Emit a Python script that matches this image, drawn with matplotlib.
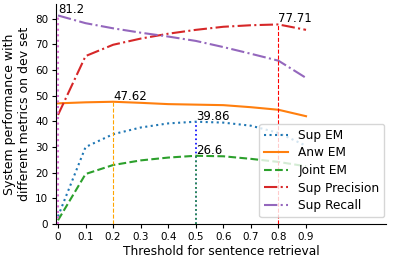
import matplotlib
matplotlib.use("Agg")
import matplotlib.pyplot as plt

thresholds = [0.0, 0.1, 0.2, 0.3, 0.4, 0.5, 0.6, 0.7, 0.8, 0.9]
sup_em = [3.0, 30.0, 35.0, 37.6, 39.2, 39.86, 39.5, 38.3, 35.5, 30.5]
anw_em = [47.0, 47.4, 47.62, 47.2, 46.7, 46.5, 46.3, 45.5, 44.5, 42.0]
joint_em = [1.5, 19.5, 23.0, 24.8, 25.9, 26.6, 26.4, 25.4, 24.2, 22.5]
sup_precision = [42.5, 65.4, 69.8, 72.2, 74.1, 75.6, 76.8, 77.4, 77.71, 75.6]
sup_recall = [81.2, 78.2, 76.2, 74.5, 73.0, 71.3, 68.9, 66.3, 63.6, 56.9]

labels = ["Sup EM", "Anw EM", "Joint EM", "Sup Precision", "Sup Recall"]
peak_x = [0.5, 0.2, 0.5, 0.8, 0.0]
peak_y = [39.86, 47.62, 26.6, 77.71, 81.2]
peak_text = ["39.86", "47.62", "26.6", "77.71", "81.2"]

fig = plt.figure(figsize=(3.93, 2.6), dpi=100)
ax = fig.add_axes([0.142, 0.138, 0.84, 0.845])

series = [sup_em, anw_em, joint_em, sup_precision, sup_recall]
colors = ["tab:blue", "tab:orange", "tab:green", "tab:red", "tab:purple"]
styles = [":", "-", "--", "-.", "-."]
vcolors = ["blue", "orange", "tab:green", "red", "orchid"]
vstyles = [":", "--", ":", "--", ":"]
vwidths = [1.2, 0.8, 1.2, 0.8, 1.5]

for s, c, ls, lab in zip(series, colors, styles, labels):
    ax.plot(thresholds, s, color=c, linestyle=ls, linewidth=1.5, label=lab)

for px, py, t, vc, vs, vw in zip(peak_x, peak_y, peak_text, vcolors, vstyles, vwidths):
    ax.vlines(px, 0, py, colors=vc, linestyles=vs, linewidth=vw, zorder=3)
    ax.text(px, py + 0.8, t, fontsize=8.5, ha="left", va="baseline")

ax.set_xlim(-0.008, 1.19)
ax.set_ylim(0, 85.5)
ax.set_xticks(thresholds)
ax.set_xticklabels(["0", "0.1", "0.2", "0.3", "0.4", "0.5", "0.6", "0.7", "0.8", "0.9"])
ax.set_yticks([0, 10, 20, 30, 40, 50, 60, 70, 80])
ax.tick_params(labelsize=7.5, length=3, pad=2.5)
ax.spines["top"].set_visible(False)
ax.spines["right"].set_visible(False)
ax.set_xlabel("Threshold for sentence retrieval", fontsize=8.8, labelpad=2.5)
ax.set_ylabel("System performance with\ndifferent metrics on dev set", fontsize=9, labelpad=3)
ax.legend(loc="lower right", fontsize=8.7, handlelength=2.0, handletextpad=0.8,
          borderpad=0.4, labelspacing=0.38, borderaxespad=0,
          bbox_to_anchor=(0.9945, 0.032))

fig.savefig("out.png", dpi=100)
